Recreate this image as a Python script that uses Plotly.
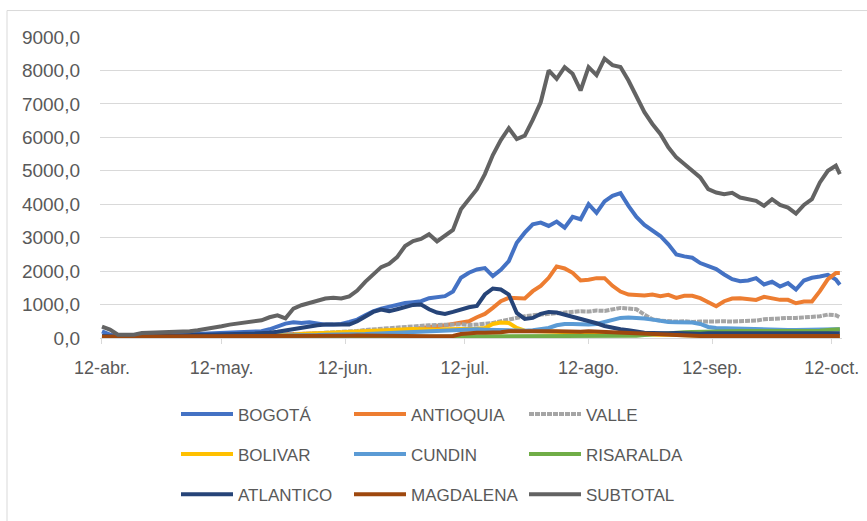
import pandas as pd
import plotly.graph_objects as go

# ---- data (daily series sampled every 2 days from 12-abr-2020, last point 14-oct-2020) ----
dates = list(pd.date_range("2020-04-12", periods=93, freq="2D")) + [pd.Timestamp("2020-10-14")]

tick_dates = ["2020-04-12", "2020-05-12", "2020-06-12", "2020-07-12",
              "2020-08-12", "2020-09-12", "2020-10-12"]
tick_labels = ["12-abr.", "12-may.", "12-jun.", "12-jul.", "12-ago.", "12-sep.", "12-oct."]

bogota = [200, 100, 50, 50, 50, 60, 60, 70, 80, 90,
          100, 110, 120, 130, 140, 150, 150, 160, 170, 180,
          200, 260, 350, 430, 470, 450, 470, 430, 400, 400,
          420, 480, 550, 680, 800, 880, 945, 1000, 1045, 1070,
          1100, 1190, 1220, 1250, 1390, 1800, 1950, 2050, 2090, 1850,
          2040, 2300, 2850, 3150, 3400, 3450, 3350, 3480, 3300, 3620,
          3550, 4000, 3740, 4085, 4250, 4330, 3950, 3620, 3380, 3220,
          3050, 2800, 2500, 2440, 2400, 2240, 2150, 2060, 1900, 1760,
          1700, 1720, 1790, 1600, 1680, 1540, 1640, 1450, 1720, 1800,
          1840, 1890, 1750, 1590]

antioquia = [30, 40, 40, 40, 50, 50, 50, 60, 60, 60,
             70, 70, 70, 80, 80, 80, 90, 90, 90, 100,
             100, 100, 110, 110, 120, 120, 130, 130, 140, 140,
             150, 160, 170, 180, 190, 200, 220, 240, 250, 270,
             290, 310, 340, 380, 420, 450, 500, 620, 720, 900,
             1100, 1200, 1200, 1180, 1400, 1560, 1800, 2140, 2080, 1950,
             1720, 1740, 1790, 1790, 1560, 1390, 1300, 1290, 1270, 1300,
             1250, 1290, 1200, 1260, 1260, 1190, 1060, 950, 1100, 1180,
             1190, 1180, 1140, 1230, 1170, 1140, 1140, 1040, 1090, 1090,
             1400, 1760, 1940, 1940]

valle = [30, 30, 30, 30, 40, 40, 40, 40, 50, 50,
         50, 60, 60, 60, 70, 70, 70, 80, 80, 90,
         90, 100, 100, 110, 110, 120, 130, 140, 150, 160,
         170, 190, 210, 240, 260, 280, 300, 310, 330, 360,
         370, 380, 390, 380, 400, 410, 390, 400, 420, 450,
         500, 560, 600, 650, 680, 700, 720, 740, 760, 780,
         800, 790, 820, 810, 860, 900, 880, 860, 700, 560,
         520, 500, 490, 500, 480, 490, 500, 480, 500, 490,
         500, 500, 520, 560, 580, 600, 600, 600, 610, 620,
         650, 700, 680, 620]

bolivar = [10, 10, 10, 10, 10, 15, 15, 15, 20, 20,
           20, 25, 25, 30, 30, 35, 40, 45, 50, 55,
           60, 70, 80, 90, 100, 120, 130, 150, 160, 170,
           180, 200, 220, 230, 240, 250, 250, 260, 270, 270,
           260, 250, 250, 260, 260, 270, 270, 280, 300, 420,
           460, 450, 300, 220, 210, 200, 180, 170, 160, 160,
           150, 150, 140, 140, 130, 130, 120, 120, 110, 110,
           100, 100, 90, 80, 70, 60, 50, 50, 40, 40,
           30, 30, 20, 10, 5, 5, 20, 30, 30, 30,
           30, 30, 30, 30]

cundin = [40, 30, 20, 20, 20, 25, 25, 30, 30, 30,
          35, 35, 40, 40, 45, 45, 50, 50, 55, 60,
          60, 65, 70, 70, 80, 80, 90, 90, 100, 100,
          100, 110, 110, 120, 130, 140, 150, 160, 180, 200,
          210, 220, 230, 240, 240, 250, 250, 260, 250, 240,
          230, 220, 210, 220, 230, 250, 300, 380, 420, 420,
          410, 400, 420, 480, 560, 600, 610, 600, 580, 550,
          500, 480, 470, 470, 460, 420, 330, 300, 290, 290,
          280, 270, 260, 260, 250, 250, 240, 240, 250, 260,
          270, 270, 260, 260]

risaralda = [5, 5, 5, 5, 5, 5, 5, 5, 5, 5,
             10, 10, 10, 10, 10, 10, 10, 10, 15, 15,
             15, 15, 15, 20, 20, 20, 20, 20, 25, 25,
             25, 25, 30, 30, 30, 30, 35, 35, 35, 40,
             40, 40, 40, 45, 45, 50, 50, 40, 40, 40,
             40, 40, 40, 40, 40, 45, 50, 50, 50, 50,
             55, 55, 60, 60, 60, 60, 60, 70, 90, 110,
             130, 150, 160, 170, 180, 190, 200, 200, 200, 210,
             210, 210, 210, 210, 200, 200, 200, 200, 210, 210,
             220, 240, 260, 260]

atlantico = [60, 40, 40, 40, 50, 50, 50, 60, 60, 60,
             80, 90, 100, 100, 110, 110, 120, 120, 130, 130,
             140, 160, 190, 230, 280, 320, 350, 380, 400, 400,
             400, 400, 500, 640, 780, 850, 800, 860, 940, 990,
             1000, 860, 760, 720, 780, 860, 920, 960, 1300, 1480,
             1450, 1300, 750, 570, 600, 720, 780, 760, 700, 650,
             580, 520, 440, 360, 300, 260, 230, 190, 160, 150,
             140, 140, 150, 140, 140, 130, 140, 140, 150, 140,
             140, 140, 130, 140, 140, 150, 150, 140, 140, 150,
             150, 150, 140, 140]

magdalena = [40, 40, 40, 40, 40, 45, 45, 45, 45, 50,
             50, 50, 50, 50, 50, 55, 55, 55, 55, 60,
             60, 60, 60, 60, 65, 65, 65, 65, 70, 70,
             70, 70, 75, 75, 75, 80, 80, 80, 80, 70,
             60, 55, 50, 50, 60, 120, 150, 160, 160, 160,
             170, 200, 190, 200, 200, 190, 200, 200, 190, 200,
             190, 200, 190, 180, 170, 160, 150, 140, 130, 110,
             90, 80, 70, 60, 60, 60, 60, 60, 60, 60,
             60, 60, 55, 55, 60, 60, 60, 60, 60, 60,
             60, 60, 60, 60]

subtotal = [340, 250, 100, 100, 100, 150, 160, 160, 160, 170,
            180, 200, 230, 260, 300, 350, 400, 430, 460, 500,
            530, 620, 680, 590, 880, 980, 1050, 1100, 1180, 1200,
            1180, 1245, 1420, 1680, 1900, 2120, 2220, 2420, 2750, 2900,
            2960, 3100, 2890, 3050, 3230, 3850, 4130, 4450, 4900, 5470,
            5920, 6270, 5950, 6050, 6520, 7050, 8000, 7750, 8100, 7900,
            7400, 8100, 7860, 8350, 8160, 8100, 7700, 7200, 6750, 6400,
            6100, 5700, 5400, 5200, 5000, 4800, 4450, 4350, 4300, 4340,
            4200, 4160, 4100, 3950, 4150, 3980, 3900, 3720, 3980, 4150,
            4650, 5000, 5150, 4900]

series = [
    ("BOGOTÁ", bogota, "#4472C4", "legend", "solid"),
    ("ANTIOQUIA", antioquia, "#ED7D31", "legend2", "solid"),
    ("VALLE", valle, "#A5A5A5", "legend3", "5px,1px"),
    ("BOLIVAR", bolivar, "#FFC000", "legend", "solid"),
    ("CUNDIN", cundin, "#5B9BD5", "legend2", "solid"),
    ("RISARALDA", risaralda, "#70AD47", "legend3", "solid"),
    ("ATLANTICO", atlantico, "#264478", "legend", "solid"),
    ("MAGDALENA", magdalena, "#9E480E", "legend2", "solid"),
    ("SUBTOTAL", subtotal, "#636363", "legend3", "solid"),
]

FONT = "Liberation Sans"
TXT = "#595959"
GRID = "#D9D9D9"

fig = go.Figure()
for name, vals, color, leg, dash in series:
    fig.add_trace(go.Scatter(
        x=dates, y=vals, name=name, mode="lines",
        line=dict(color=color, width=4, dash=dash),
        legend=leg, legendgroup=name,
    ))

# pixel helpers for the plot area (left 100, right 842, top 37, bottom 338.5)
L, R, T, B = 100, 842, 37, 338.5
def px(xp):
    return (xp - L) / (R - L)
def py(yp):
    return (B - yp) / (B - T)

leg_common = dict(orientation="v", xanchor="left", yanchor="top",
                  font=dict(family=FONT, size=17, color=TXT),
                  tracegroupgap=15, itemwidth=52, traceorder="grouped",
                  bgcolor="rgba(0,0,0,0)")

fig.update_layout(
    width=867, height=521,
    margin=dict(l=L, r=867 - R, t=T, b=521 - B, pad=0, autoexpand=False),
    paper_bgcolor="white", plot_bgcolor="white",
    separators=",.",
    showlegend=True,
    legend=dict(x=px(176), y=py(397), **leg_common),
    legend2=dict(x=px(349), y=py(397), **leg_common),
    legend3=dict(x=px(524), y=py(397), **leg_common),
    xaxis=dict(
        type="date",
        range=["2020-04-11 12:00", "2020-10-14 13:00"],
        tickvals=tick_dates, ticktext=tick_labels,
        showgrid=False, showline=True, linecolor=GRID, linewidth=1,
        ticks="outside", ticklen=5, tickcolor=GRID,
        ticklabelstandoff=8,
        tickfont=dict(family=FONT, size=18, color=TXT),
        zeroline=False,
    ),
    yaxis=dict(
        range=[0, 9000], dtick=1000, tick0=0, tickformat=".1f",
        showgrid=True, gridcolor=GRID, gridwidth=1,
        zeroline=False, showline=False,
        ticklabelstandoff=19,
        tickfont=dict(family=FONT, size=19, color=TXT),
    ),
    shapes=[dict(type="rect", xref="paper", yref="paper",
                 x0=px(7), x1=px(880), y0=py(540), y1=py(10.5),
                 line=dict(color=GRID, width=1), layer="below")],
)

fig.write_html("out.html", config={"displayModeBar": False},
               post_script="document.body.style.margin='0px';")
